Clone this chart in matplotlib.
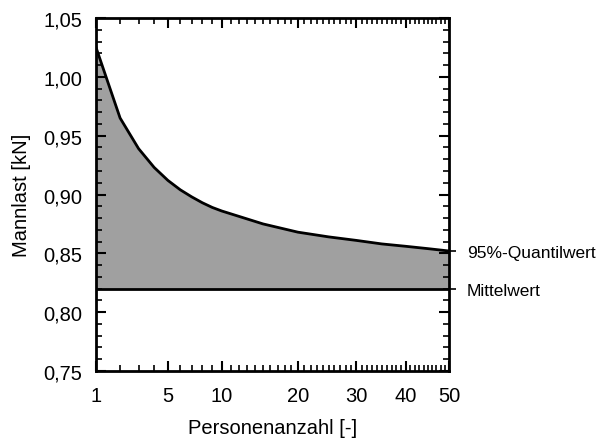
import numpy as np
import matplotlib.pyplot as plt
from matplotlib.ticker import FixedLocator, FuncFormatter, MultipleLocator

plt.rcParams["font.family"] = ["Liberation Sans", "DejaVu Sans"]

# Personenanzahl and 95%-quantile of the load
persons = [1, 2, 3, 4, 5, 6, 7, 8, 9, 10, 15, 20, 25, 30, 35, 40, 45, 50]
quantile = [1.025, 0.965, 0.939, 0.923, 0.912, 0.904, 0.898, 0.893, 0.889, 0.886,
            0.875, 0.868, 0.864, 0.861, 0.858, 0.856, 0.854, 0.852]
mean_value = 0.82

x_major = [1, 5, 10, 20, 30, 40, 50]
y_major = [0.75, 0.80, 0.85, 0.90, 0.95, 1.00, 1.05]
right_ticks = [quantile[-1], mean_value]
right_labels = ["95%-Quantilwert", "Mittelwert"]

fig = plt.figure(figsize=(6.02, 4.39), dpi=100)
ax = fig.add_axes([0.1595, 0.1526, 0.5863, 0.8041])

ax.fill_between(persons, quantile, mean_value, color="#a0a0a0", lw=0)
ax.plot(persons, quantile, color="black", lw=2)
ax.axhline(mean_value, color="black", lw=2)

# x axis is square-root scaled
ax.set_xscale("function", functions=(np.sqrt, np.square))
ax.set_xlim(1, 50)
ax.set_ylim(0.75, 1.05)

ax.xaxis.set_major_locator(FixedLocator(x_major))
ax.xaxis.set_minor_locator(FixedLocator(range(1, 51)))
ax.xaxis.set_major_formatter(FuncFormatter(lambda v, p: f"{v:.0f}"))
ax.yaxis.set_major_locator(FixedLocator(y_major))
ax.yaxis.set_minor_locator(MultipleLocator(0.01))
ax.yaxis.set_major_formatter(FuncFormatter(lambda v, p: f"{v:.2f}".replace(".", ",")))

ax.tick_params(which="both", direction="in", top=True, right=True, width=1.5, labelsize=14.5)
ax.tick_params(which="major", length=7)
ax.tick_params(which="minor", length=4, width=1.2)
ax.tick_params(axis="x", pad=11)
ax.tick_params(axis="y", pad=10)
for s in ax.spines.values():
    s.set_linewidth(2)

ax.set_xlabel("Personenanzahl [-]", fontsize=14.5, labelpad=9)
ax.set_ylabel("Mannlast [kN]", fontsize=14.5, labelpad=9)

sec = ax.secondary_yaxis("right")
sec.set_yticks(right_ticks)
sec.set_yticklabels(right_labels)
sec.tick_params(direction="out", length=5, width=1.2, labelsize=12.5, pad=8)
sec.spines["right"].set_visible(False)

fig.savefig("out.png", dpi=100)
